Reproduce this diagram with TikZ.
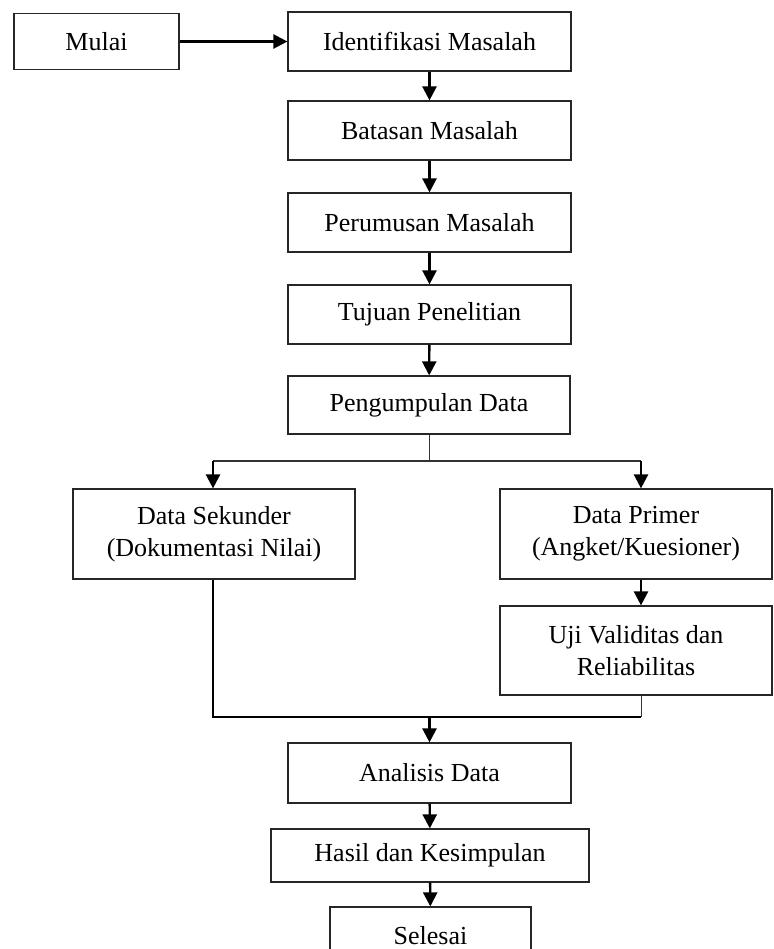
\documentclass[tikz,border=0pt]{standalone}
\usepackage{fontspec}
\setmainfont{Liberation Serif}
\usetikzlibrary{arrows.meta}

\begin{document}
\begin{tikzpicture}[x=0.5pt,y=-0.5pt,
  box/.style={draw=black!85,line width=0.6pt,align=center,inner sep=0pt,font=\fontsize{13}{16}\selectfont},
  arr/.style={black,line width=1.2pt,-{Triangle[length=7pt,width=7pt]}},
  thinline/.style={black!80,line width=0.5pt},
  joinline/.style={black,line width=0.8pt}]

\clip (0,0) rectangle (773,949);
\fill[white] (0,0) rectangle (773,949);

\node[box,minimum width=82.5pt,minimum height=28pt] (mulai) at (96.5,41.5) {Mulai};
\node[box,minimum width=141.5pt,minimum height=29.5pt] (ident) at (429.5,41.5) {Identifikasi Masalah};
\node[box,minimum width=141.5pt,minimum height=29.5pt] (batasan) at (429.5,130.5) {Batasan Masalah};
\node[box,minimum width=141.5pt,minimum height=29.5pt] (rumusan) at (429.5,222.5) {Perumusan Masalah};
\node[box,minimum width=141.5pt,minimum height=29.5pt] (tujuan) at (429.5,314.5) {Tujuan Penelitian};
\node[box,minimum width=141pt,minimum height=29pt] (kumpul) at (429,405) {Pengumpulan Data};
\node[box,minimum width=141pt,minimum height=45pt] (sekunder) at (214,534) {Data Sekunder\\(Dokumentasi Nilai)};
\node[box,minimum width=136pt,minimum height=45pt] (primer) at (636,534) {Data Primer\\(Angket/Kuesioner)};
\node[box,minimum width=136pt,minimum height=44.5pt] (uji) at (636,650.5) {Uji Validitas dan\\Reliabilitas};
\node[box,minimum width=141.5pt,minimum height=30pt] (analisis) at (429.5,773) {Analisis Data};
\node[box,minimum width=159pt,minimum height=26.5pt] (hasil) at (430,855.5) {Hasil dan Kesimpulan};
\node[box,minimum width=100.5pt,minimum height=29pt] (selesai) at (430.5,936) {Selesai};

\coordinate (split) at (429,461);
\coordinate (merge) at (429.5,717);
\coordinate (lcol) at (213,0);
\coordinate (rcol) at (641,0);

\draw[arr] (mulai) -- (ident);
\draw[arr] (ident) -- (batasan);
\draw[arr] (batasan) -- (rumusan);
\draw[arr] (rumusan) -- (tujuan);
\draw[arr] (tujuan) -- (kumpul);

\draw[thinline] (kumpul) -- (split);
\draw[thinline,line width=0.6pt] (split -| lcol) -- (split -| rcol);
\draw[arr] (split -| lcol) -- (sekunder.north -| lcol);
\draw[arr] (split -| rcol) -- (primer.north -| rcol);
\draw[arr] (primer.south -| rcol) -- (uji.north -| rcol);

\draw[thinline] (uji.south -| rcol) -- (merge -| rcol);
\draw[joinline] (sekunder.south -| lcol) |- (merge -| rcol);
\draw[arr] (merge) -- (analisis);
\draw[arr] (analisis) -- (hasil);
\draw[arr] (hasil) -- (selesai);

\end{tikzpicture}
\end{document}
